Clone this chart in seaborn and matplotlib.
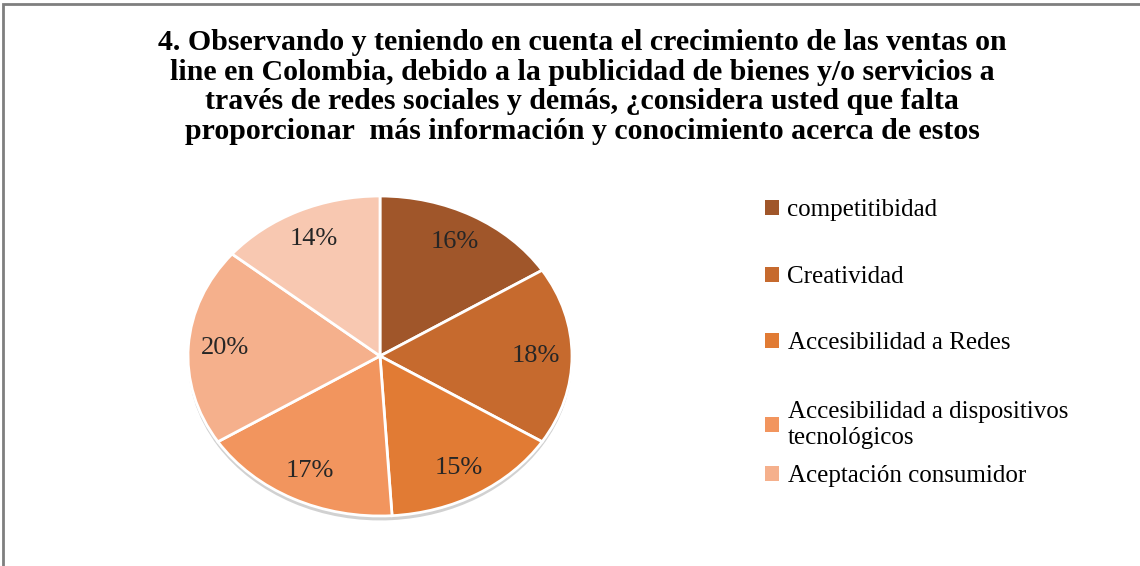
import matplotlib
matplotlib.use("Agg")
import matplotlib.pyplot as plt
from matplotlib.patches import Rectangle
import seaborn as sns

sns.set_theme(style="white")
plt.rcParams['font.family'] = ['Liberation Serif', 'DejaVu Serif']

title = ("4. Observando y teniendo en cuenta el crecimiento de las ventas on\n"
         "line en Colombia, debido a la publicidad de bienes y/o servicios a\n"
         "través de redes sociales y demás, ¿considera usted que falta\n"
         "proporcionar  más información y conocimiento acerca de estos")
categories = ["competitibidad", "Creatividad", "Accesibilidad a Redes",
              "Accesibilidad a dispositivos\ntecnológicos", "Aceptación consumidor", ""]
values = [16, 18, 15, 17, 20, 14]
colors = ["#A0562A", "#C66A2E", "#E17B34", "#F2955E", "#F5B08C", "#F8C8B1"]

W, H = 1140, 566
fig = plt.figure(figsize=(W / 100, H / 100), dpi=100)
fig.patch.set_facecolor("white")

# frame
fig.add_artist(Rectangle((3 / W, -0.05), 1.1, 1 - 4 / H + 0.05, transform=fig.transFigure,
                         fill=False, edgecolor="#7f7f7f", linewidth=2))

fig.text(582 / W, 1 - 29 / H, title, ha="center", va="top", fontsize=21.5,
         fontweight="bold", linespacing=1.12, color="black")

# pie (stretched horizontally like the reference)
cx, cy, rx, ry = 380, 356, 192, 160
ax = fig.add_axes([(cx - rx) / W, 1 - (cy + ry) / H, 2 * rx / W, 2 * ry / H])
wedges, texts = ax.pie(values, colors=colors, startangle=90, counterclock=False,
                       labels=[f"{v}%" for v in values], labeldistance=0.81,
                       wedgeprops=dict(edgecolor="white", linewidth=2),
                       shadow=dict(ox=0.0, oy=-0.02, facecolor="#9a9a9a",
                                   edgecolor="none", alpha=0.45),
                       textprops=dict(fontsize=19, color="#262626"))
for t in texts:
    t.set_horizontalalignment("center")
    t.set_verticalalignment("center")
ax.set_xlim(-1.0, 1.0)
ax.set_ylim(-1.0, 1.0)
ax.set_aspect("auto")
ax.axis("off")

# legend: one entry per item, placed like the reference
ys = [210, 277, 343, 425, 476]
for i, y in enumerate(ys):
    leg = fig.legend([wedges[i]], [categories[i]], loc="center left",
                     bbox_to_anchor=(765 / W, 1 - y / H), frameon=False,
                     fontsize=18, handlelength=0.55, handleheight=0.55,
                     handletextpad=0.35, borderpad=0, borderaxespad=0,
                     labelcolor="black")
    for h in leg.legend_handles:
        h.set_edgecolor("none")

fig.savefig("out.png", dpi=100)
